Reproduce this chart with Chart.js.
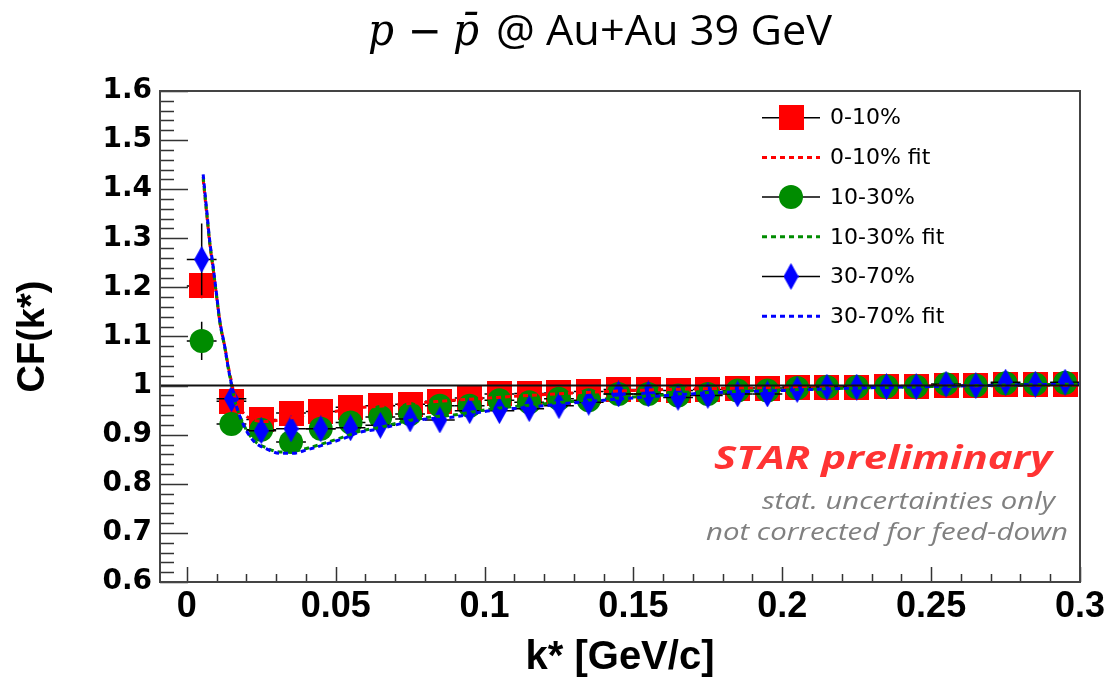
<!DOCTYPE html>
<html><head><meta charset="utf-8">
<script src="https://cdn.jsdelivr.net/npm/chart.js@4.4.1/dist/chart.umd.min.js"></script>
<style>html,body{margin:0;padding:0;background:#fff;}canvas{display:block;}</style>
</head><body>
<canvas id="c" width="1111" height="682"></canvas>
<script>
// ---------- data ----------
const kStar = [0.005,0.015,0.025,0.035,0.045,0.055,0.065,0.075,0.085,0.095,
               0.105,0.115,0.125,0.135,0.145,0.155,0.165,0.175,0.185,0.195,
               0.205,0.215,0.225,0.235,0.245,0.255,0.265,0.275,0.285,0.295];
const binHalfWidth = 0.005;

const cf010  = [1.203,0.968,0.931,0.944,0.947,0.956,0.959,0.962,0.968,0.975,
                0.983,0.984,0.985,0.988,0.992,0.992,0.990,0.992,0.994,0.995,
                0.997,0.997,0.997,0.998,0.998,1.001,1.000,1.002,1.002,1.002];
const err010 = [0.025,0.008,0.007,0.006,0.006,0.005,0.005,0.005,0.005,0.005,
                0.004,0.004,0.004,0.004,0.004,0.004,0.004,0.004,0.004,0.004,
                0.004,0.004,0.004,0.004,0.004,0.004,0.004,0.004,0.004,0.004];

const cf1030  = [1.091,0.922,0.910,0.885,0.912,0.925,0.936,0.942,0.959,0.959,
                 0.970,0.966,0.973,0.970,0.983,0.983,0.980,0.983,0.990,0.990,
                 0.995,0.997,0.997,0.998,0.998,1.003,1.000,1.005,1.003,1.006];
const err1030 = [0.039,0.010,0.008,0.008,0.007,0.007,0.006,0.006,0.006,0.006,
                 0.005,0.005,0.005,0.005,0.005,0.005,0.005,0.005,0.005,0.005,
                 0.005,0.005,0.005,0.005,0.005,0.005,0.005,0.005,0.005,0.005];

const cf3070  = [1.257,0.973,0.908,0.912,0.912,0.914,0.919,0.932,0.930,0.949,
                 0.949,0.953,0.959,0.966,0.983,0.983,0.976,0.980,0.983,0.983,
                 0.992,0.997,0.997,0.998,0.998,1.003,1.000,1.007,1.003,1.007];
const err3070 = [0.073,0.013,0.011,0.010,0.009,0.008,0.008,0.008,0.007,0.007,
                 0.007,0.007,0.006,0.006,0.006,0.006,0.006,0.006,0.006,0.006,
                 0.006,0.006,0.006,0.006,0.006,0.006,0.006,0.006,0.006,0.006];

const fitK    = [0.0055,0.0066,0.0077,0.0089,0.0100,0.0111,0.0128,0.0139,0.0150,0.0161,
                 0.0189,0.0223,0.0268,0.0313,0.0357,0.0402,0.0469,0.0525,0.0581,0.0649,
                 0.0716,0.0805,0.0895,0.1018,0.115,0.130,0.150,0.175,0.200,0.225,0.250,0.275,0.300];
const fit010  = [1.420,1.355,1.290,1.235,1.182,1.130,1.078,1.040,1.008,0.978,
                 0.945,0.930,0.927,0.930,0.935,0.940,0.945,0.950,0.955,0.958,
                 0.962,0.966,0.970,0.975,0.980,0.985,0.990,0.994,0.996,0.998,0.999,1.000,1.001];
const fit1030 = [1.425,1.358,1.292,1.237,1.183,1.129,1.076,1.036,1.002,0.970,
                 0.923,0.890,0.873,0.865,0.866,0.872,0.884,0.895,0.907,0.915,
                 0.925,0.935,0.940,0.952,0.960,0.968,0.977,0.986,0.991,0.995,0.998,1.001,1.003];
const fit3070 = [1.430,1.362,1.295,1.240,1.186,1.132,1.078,1.037,1.003,0.970,
                 0.922,0.888,0.871,0.862,0.862,0.869,0.881,0.892,0.905,0.912,
                 0.922,0.932,0.936,0.949,0.956,0.965,0.975,0.985,0.990,0.995,0.998,1.001,1.003];

const seriesLabels = ['0-10%','0-10% fit','10-30%','10-30% fit','30-70%','30-70% fit'];
const xTickValues = [0,0.05,0.1,0.15,0.2,0.25,0.3];
const xTickLabels = ['0','0.05','0.1','0.15','0.2','0.25','0.3'];
const yTickValues = [0.6,0.7,0.8,0.9,1.0,1.1,1.2,1.3,1.4,1.5,1.6];
const yTickLabels = ['0.6','0.7','0.8','0.9','1','1.1','1.2','1.3','1.4','1.5','1.6'];
const xAxisTitle = 'k* [GeV/c]';
const yAxisTitle = 'CF(k*)';
const refLine = 1.0;

// ---------- marker images ----------
function squareMarker(s, col){const c=document.createElement('canvas');c.width=s;c.height=s;const g=c.getContext('2d');g.fillStyle=col;g.fillRect(0,0,s,s);return c;}
function diamondMarker(w,h,col){const c=document.createElement('canvas');c.width=w;c.height=h;const g=c.getContext('2d');g.fillStyle=col;g.beginPath();g.moveTo(w/2,0);g.lineTo(w,h/2);g.lineTo(w/2,h);g.lineTo(0,h/2);g.closePath();g.fill();return c;}
const RED='#ff0000', GREEN='#008c00', BLUE='#0000ff';
const sqImg = squareMarker(25, RED);
const diaImg = diamondMarker(15, 27, BLUE);
const FIT_DASH = [5,4];

const pts = (xs, ys) => xs.map((x,i)=>({x, y: ys[i]}));

const datasets = [
  {label: seriesLabels[0], data: pts(kStar, cf010), errY: err010, pointStyle: sqImg, pointRadius: 12, backgroundColor: RED, borderColor: RED, showLine:false, order: 9},
  {label: seriesLabels[1], data: pts(fitK, fit010), isFit:true, showLine:true, borderColor: RED, borderWidth: 3, borderDash:FIT_DASH, pointRadius:0, cubicInterpolationMode:'monotone', fill:false, order: 3},
  {label: seriesLabels[2], data: pts(kStar, cf1030), errY: err1030, pointStyle: 'circle', pointRadius: 12, backgroundColor: GREEN, borderColor: GREEN, borderWidth:0, showLine:false, order: 8},
  {label: seriesLabels[3], data: pts(fitK, fit1030), isFit:true, showLine:true, borderColor: GREEN, borderWidth: 3, borderDash:FIT_DASH, pointRadius:0, cubicInterpolationMode:'monotone', fill:false, order: 2},
  {label: seriesLabels[4], data: pts(kStar, cf3070), errY: err3070, pointStyle: diaImg, pointRadius: 12, backgroundColor: BLUE, borderColor: BLUE, showLine:false, order: 7},
  {label: seriesLabels[5], data: pts(fitK, fit3070), isFit:true, showLine:true, borderColor: BLUE, borderWidth: 3, borderDash:FIT_DASH, pointRadius:0, cubicInterpolationMode:'monotone', fill:false, order: 1},
];

// draw text with a given cap height, squeezed/stretched to a given width
function drawFitted(ctx, text, style, family, capRatio, capH, x, baseline, width){
  const size = capH / capRatio;
  ctx.font = style + ' ' + size + 'px ' + family;
  const w = ctx.measureText(text).width;
  ctx.save(); ctx.translate(x, baseline); ctx.scale(width / w, 1);
  ctx.fillText(text, 0, 0); ctx.restore();
}

const rootPlugin = {
  id: 'rootStyle',
  beforeDatasetDraw(chart, args){
    const ds = chart.data.datasets[args.index];
    if (!ds.errY) return;
    const {ctx, chartArea: a, scales: {x, y}} = chart;
    ctx.save();
    ctx.beginPath(); ctx.rect(a.left, a.top, a.right-a.left, a.bottom-a.top); ctx.clip();
    ctx.strokeStyle = '#000'; ctx.lineWidth = 1.5;
    ds.data.forEach((p,i)=>{
      const px = x.getPixelForValue(p.x), py = y.getPixelForValue(p.y);
      ctx.beginPath();
      ctx.moveTo(x.getPixelForValue(p.x-binHalfWidth), py);
      ctx.lineTo(x.getPixelForValue(p.x+binHalfWidth), py);
      ctx.moveTo(px, y.getPixelForValue(p.y-ds.errY[i]));
      ctx.lineTo(px, y.getPixelForValue(p.y+ds.errY[i]));
      ctx.stroke();
    });
    ctx.restore();
  },
  afterDatasetsDraw(chart){
    const {ctx, chartArea: a, scales: {x, y}} = chart;
    ctx.save();
    const yr = y.getPixelForValue(refLine);
    ctx.strokeStyle = '#111'; ctx.lineWidth = 2;
    ctx.beginPath(); ctx.moveTo(a.left, yr); ctx.lineTo(a.right, yr); ctx.stroke();
    ctx.strokeStyle = '#333'; ctx.lineWidth = 1.5;
    ctx.beginPath();
    for (let i=0;i<=50;i++){
      const v = y.min + i*0.02; const py = Math.round(y.getPixelForValue(v))+0.5;
      const len = (i%5===0) ? 28 : 14;
      ctx.moveTo(a.left, py); ctx.lineTo(a.left+len, py);
    }
    for (let i=0;i<=30;i++){
      const v = i*0.01; const px = Math.round(x.getPixelForValue(v))+0.5;
      const len = (i%5===0) ? 15 : 8;
      ctx.moveTo(px, a.bottom); ctx.lineTo(px, a.bottom-len);
    }
    ctx.stroke();
    ctx.strokeStyle = '#444'; ctx.lineWidth = 2;
    ctx.strokeRect(a.left, a.top, a.right-a.left, a.bottom-a.top);
    ctx.restore();
  },
  afterDraw(chart){
    const {ctx} = chart;
    ctx.save();
    // legend
    const lx0 = 762, lx1 = 820, mx = 791, tx = 830, ly0 = 117.7, dy = 39.7;
    ctx.textBaseline = 'middle'; ctx.textAlign = 'left';
    chart.data.datasets.forEach((ds, i)=>{
      const yy = ly0 + i*dy;
      if (ds.isFit){
        ctx.strokeStyle = ds.borderColor; ctx.lineWidth = 3; ctx.setLineDash(FIT_DASH);
        ctx.beginPath(); ctx.moveTo(lx0, yy); ctx.lineTo(lx1, yy); ctx.stroke();
        ctx.setLineDash([]);
      } else {
        ctx.strokeStyle = '#000'; ctx.lineWidth = 1.5;
        ctx.beginPath(); ctx.moveTo(lx0, yy); ctx.lineTo(lx1, yy); ctx.stroke();
        if (typeof ds.pointStyle === 'object'){
          ctx.drawImage(ds.pointStyle, mx - ds.pointStyle.width/2, yy - ds.pointStyle.height/2);
        } else {
          ctx.fillStyle = ds.backgroundColor; ctx.beginPath(); ctx.arc(mx, yy, ds.pointRadius, 0, Math.PI*2); ctx.fill();
        }
      }
      ctx.fillStyle = '#000'; ctx.font = '22px "DejaVu Sans"';
      ctx.fillText(ds.label, tx, yy+1);
    });
    // annotations
    ctx.textBaseline = 'alphabetic';
    ctx.fillStyle = '#ff3333';
    drawFitted(ctx, 'STAR preliminary', 'italic bold', '"Open Sans"', 0.714, 23, 714, 469, 338);
    ctx.fillStyle = '#808080';
    drawFitted(ctx, 'stat. uncertainties only', 'italic', '"Open Sans"', 0.714, 17, 762, 509, 293);
    drawFitted(ctx, 'not corrected for feed-down', 'italic', '"Open Sans"', 0.714, 17, 706, 540, 362);
    // title
    ctx.fillStyle = '#000';
    drawFitted(ctx, 'p', 'italic', '"DejaVu Serif"', 0.52, 23, 368, 45, 26);
    drawFitted(ctx, '\u2212', '', '"DejaVu Sans"', 0.72, 30, 408, 45, 34);
    drawFitted(ctx, 'p\u0304', 'italic', '"DejaVu Serif"', 0.52, 23, 453, 45, 26);
    drawFitted(ctx, '@ Au+Au 39 GeV', '', '"Open Sans"', 0.714, 30, 496, 45, 336);
    ctx.restore();
  }
};

new Chart(document.getElementById('c'), {
  type: 'scatter',
  data: {datasets},
  options: {
    responsive: false, animation: false, devicePixelRatio: 1,
    layout: {padding: {top: 91, right: 31, left: 0, bottom: 0}},
    plugins: {legend: {display: false}, tooltip: {enabled: false}, title: {display: false}},
    scales: {
      x: {
        type: 'linear', position: 'bottom', min: -0.009, max: 0.3,
        afterBuildTicks: sc => { sc.ticks = xTickValues.map(v=>({value:v})); },
        afterFit: sc => { sc.height = 100; },
        ticks: {autoSkip:false, maxRotation:0, padding: 3, color:'#000', font:{family:'"Liberation Sans"', size:36, weight:'bold'},
                callback: (v,i) => xTickLabels[i]},
        grid: {display:false, drawTicks:false}, border: {display:false},
        title: {display:true, text: xAxisTitle, color:'#000', font:{family:'"Liberation Sans"', size:40, weight:'bold'}, padding:{top:0,bottom:0}}
      },
      y: {
        type: 'linear', position: 'left', min: 0.6, max: 1.6,
        afterBuildTicks: sc => { sc.ticks = yTickValues.map(v=>({value:v})); },
        afterFit: sc => { sc.width = 160; },
        ticks: {autoSkip:false, padding: 8, color:'#000', font:{family:'"DejaVu Sans"', size:28, weight:'bold'},
                callback: (v,i) => yTickLabels[i]},
        grid: {display:false, drawTicks:false}, border: {display:false},
        title: {display:true, text: yAxisTitle, color:'#000', font:{family:'"Liberation Sans"', size:38, weight:'bold'}, padding:{top:11,bottom:0}}
      }
    }
  },
  plugins: [rootPlugin]
});
</script>
</body></html>
